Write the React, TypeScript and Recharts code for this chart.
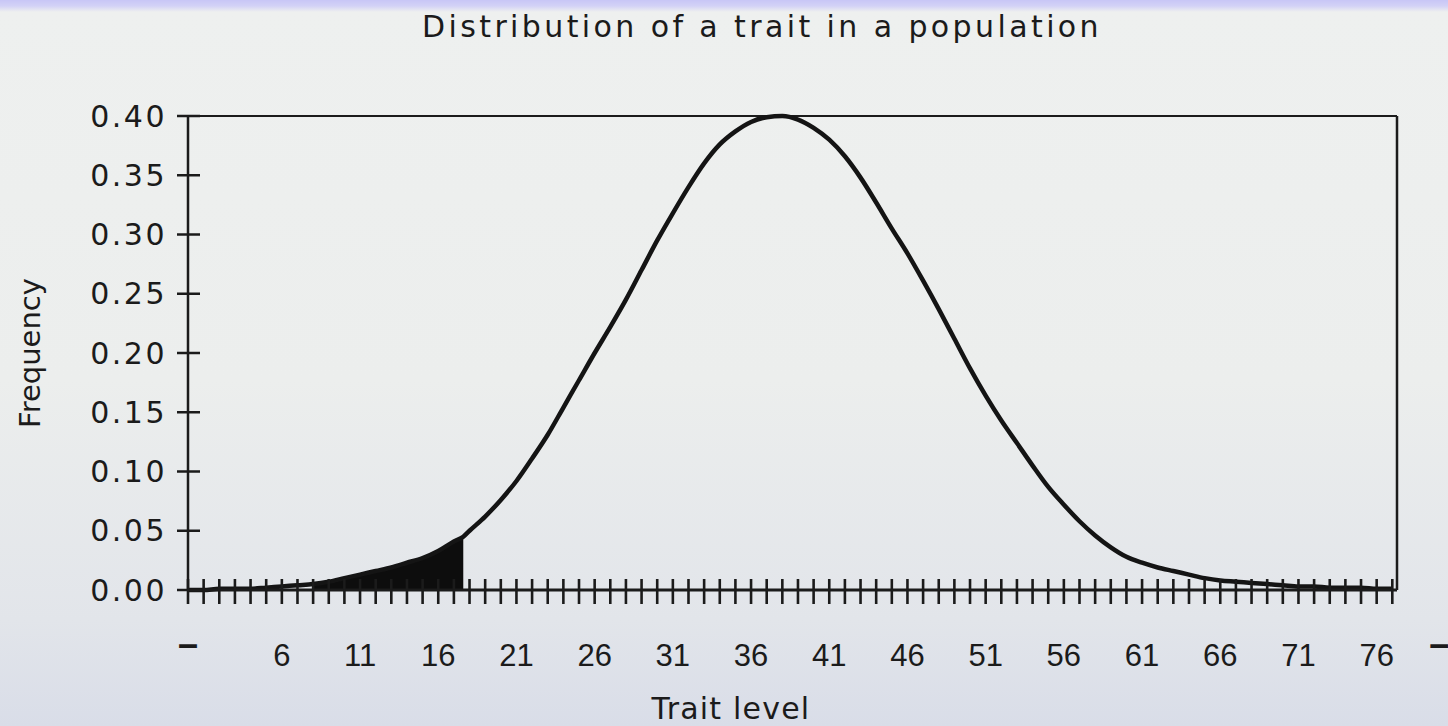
import {
  ComposedChart,
  Line,
  Area,
  XAxis,
  YAxis,
  ReferenceLine,
} from "recharts";

// trait level (x) and frequency (y)
const traitLevels = [
  0, 1, 2, 3, 4, 5, 6, 7, 8, 9, 10, 11, 12, 13, 14, 15, 16, 17, 17.6, 18, 19,
  20, 21, 22, 23, 24, 25, 26, 27, 28, 29, 30, 31, 32, 33, 34, 35, 36, 37, 38,
  39, 40, 41, 42, 43, 44, 45, 46, 47, 48, 49, 50, 51, 52, 53, 54, 55, 56, 57,
  58, 59, 60, 61, 62, 63, 64, 65, 66, 67, 68, 69, 70, 71, 72, 73, 74, 75, 76,
  77,
];
const frequencies = [
  0.0, 0.0, 0.001, 0.001, 0.001, 0.002, 0.003, 0.004, 0.005, 0.007, 0.01,
  0.013, 0.016, 0.019, 0.023, 0.027, 0.033, 0.041, 0.045, 0.05, 0.062, 0.076,
  0.092, 0.111, 0.131, 0.154, 0.177, 0.2, 0.222, 0.245, 0.27, 0.295, 0.318,
  0.34, 0.36, 0.376, 0.387, 0.395, 0.399, 0.4, 0.397, 0.39, 0.38, 0.366, 0.348,
  0.327, 0.305, 0.284, 0.261, 0.237, 0.212, 0.187, 0.164, 0.143, 0.124, 0.105,
  0.087, 0.072, 0.058, 0.046, 0.036, 0.028, 0.023, 0.019, 0.016, 0.013, 0.01,
  0.008, 0.007, 0.006, 0.005, 0.004, 0.003, 0.003, 0.002, 0.002, 0.002, 0.001,
  0.001,
];

// shaded lower tail
const shadeFrom = 8;
const shadeTo = 17.6;

const xMax = 77.3;
const yMax = 0.4;
const xTicks = [
  0, 1, 2, 3, 4, 5, 6, 7, 8, 9, 10, 11, 12, 13, 14, 15, 16, 17, 18, 19, 20,
  21, 22, 23, 24, 25, 26, 27, 28, 29, 30, 31, 32, 33, 34, 35, 36, 37, 38, 39,
  40, 41, 42, 43, 44, 45, 46, 47, 48, 49, 50, 51, 52, 53, 54, 55, 56, 57, 58,
  59, 60, 61, 62, 63, 64, 65, 66, 67, 68, 69, 70, 71, 72, 73, 74, 75, 76, 77,
  80,
];
const xLabelValues = [0, 6, 11, 16, 21, 26, 31, 36, 41, 46, 51, 56, 61, 66, 71, 76, 80];
const xLabelTexts = ["–", "6", "11", "16", "21", "26", "31", "36", "41", "46", "51", "56", "61", "66", "71", "76", "–"];
const lastTickMark = 77;
const yTicks = [0, 0.05, 0.1, 0.15, 0.2, 0.25, 0.3, 0.35, 0.4];

const data = traitLevels.map((level, i) => ({
  level,
  freq: frequencies[i],
  shade: level >= shadeFrom && level <= shadeTo ? frequencies[i] : null,
}));

const ink = "#1b1b1b";

const XTick = ({ x, y, payload }: any) => {
  const v = payload.value;
  const idx = xLabelValues.indexOf(v);
  const isDash = idx >= 0 && xLabelTexts[idx] === "–";
  return (
    <g>
      {v <= lastTickMark && (
        <line x1={x} x2={x} y1={y - 11} y2={y + 14} stroke={ink} strokeWidth={2.6} />
      )}
      {idx >= 0 && (
        <text
          x={x}
          y={y + (isDash ? 53 : 65)}
          textAnchor="middle"
          fill={ink}
          fontFamily="'Liberation Sans', Arial, sans-serif"
          fontSize={isDash ? 36 : 31}
          fontWeight={isDash ? "bold" : "normal"}
          dominantBaseline="central"
        >
          {xLabelTexts[idx]}
        </text>
      )}
    </g>
  );
};

const YTick = ({ x, y, payload }: any) => (
  <g>
    <line x1={x - 11} x2={x + 12} y1={y} y2={y} stroke={ink} strokeWidth={2.5} />
    <text
      x={x - 21}
      y={y}
      textAnchor="end"
      dominantBaseline="central"
      fill={ink}
      fontFamily="'DejaVu Sans', Verdana, sans-serif"
      fontSize={30}
      letterSpacing={2.5}
    >
      {payload.value.toFixed(2)}
    </text>
  </g>
);

const YLabel = ({ viewBox }: any) => {
  const cx = viewBox.x + 30;
  const cy = viewBox.y + viewBox.height / 2;
  return (
    <text
      x={cx}
      y={cy}
      transform={`rotate(-90, ${cx}, ${cy})`}
      textAnchor="middle"
      dominantBaseline="central"
      fill={ink}
      fontFamily="'DejaVu Sans', Verdana, sans-serif"
      fontSize={29}
    >
      Frequency
    </text>
  );
};

const XLabel = ({ viewBox }: any) => (
  <text
    x={731}
    y={viewBox.y + viewBox.height - 18}
    textAnchor="middle"
    dominantBaseline="central"
    fill={ink}
    fontFamily="'DejaVu Sans', Verdana, sans-serif"
    fontSize={30}
    letterSpacing={1.2}
  >
    Trait level
  </text>
);

export default function App() {
  return (
    <div
      style={{
        position: "fixed",
        left: 0,
        top: 0,
        width: 1448,
        height: 726,
        overflow: "hidden",
        background:
          "linear-gradient(to bottom, #c8c6f6 0px, #d3d2f6 6px, #eef0ef 12px, #eceeed 380px, #e2e5ea 620px, #d9dde8 726px)",
      }}
    >
      <div
        style={{
          position: "absolute",
          left: 0,
          width: 1524,
          top: 9,
          textAlign: "center",
          fontFamily: "'DejaVu Sans', Verdana, sans-serif",
          fontSize: 30,
          letterSpacing: 3.4,
          color: ink,
        }}
      >
        Distribution of a trait in a population
      </div>
      <ComposedChart
        width={1448}
        height={726}
        data={data}
        margin={{ top: 116, right: 51, bottom: 0, left: 0 }}
        style={{ position: "absolute", left: 0, top: 0 }}
      >
        <XAxis
          xAxisId="main"
          dataKey="level"
          type="number"
          domain={[0, xMax]}
          ticks={xTicks}
          interval={0}
          height={136}
          tickSize={0}
          tickMargin={0}
          tickLine={false}
          tick={<XTick />}
          axisLine={{ stroke: ink, strokeWidth: 3 }}
          allowDataOverflow
          label={<XLabel />}
        />
        <YAxis
          yAxisId="left"
          type="number"
          domain={[0, yMax]}
          ticks={yTicks}
          interval={0}
          width={188}
          tickSize={0}
          tickMargin={0}
          tickLine={false}
          tick={<YTick />}
          axisLine={{ stroke: ink, strokeWidth: 2.5 }}
          label={<YLabel />}
        />
        {/* plot frame: top and right edges */}
        <ReferenceLine xAxisId="main" yAxisId="left" y={yMax} stroke={ink} strokeWidth={2} />
        <ReferenceLine xAxisId="main" yAxisId="left" x={xMax} stroke={ink} strokeWidth={2.5} />
        <Area
          xAxisId="main"
          yAxisId="left"
          dataKey="shade"
          type="monotone"
          stroke="none"
          fill="#0d0d0d"
          fillOpacity={1}
          connectNulls={false}
          isAnimationActive={false}
        />
        <Line
          xAxisId="main"
          yAxisId="left"
          dataKey="freq"
          type="monotone"
          stroke="#141414"
          strokeWidth={4.5}
          dot={false}
          isAnimationActive={false}
        />
      </ComposedChart>
    </div>
  );
}
